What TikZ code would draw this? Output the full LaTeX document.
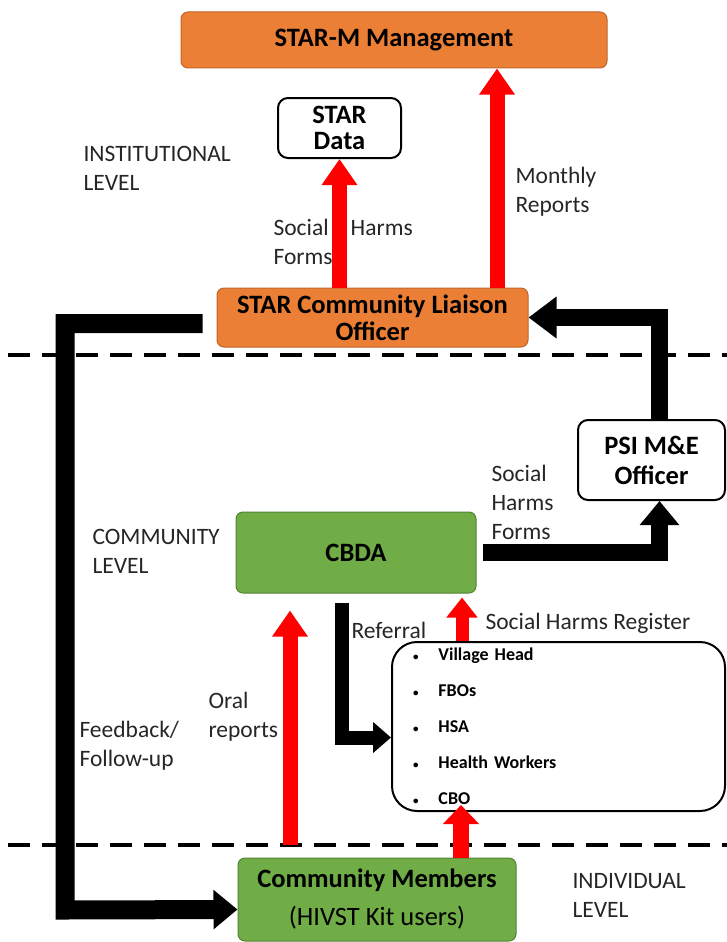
\documentclass[tikz,border=0pt]{standalone}
\usepackage{fontspec}
\setmainfont{Carlito}
\usetikzlibrary{arrows.meta}

\definecolor{boxorange}{HTML}{EB7F36}
\definecolor{boxorangeline}{HTML}{C0652A}
\definecolor{boxgreen}{HTML}{70AD47}
\definecolor{boxgreenline}{HTML}{548235}

\newcommand{\listdot}{{\fontsize{11}{11}\selectfont\textbullet}\hspace{20pt}}

\begin{document}
\begin{tikzpicture}[x=1pt,y=-1pt,
    font=\fontsize{23.5}{29}\selectfont,
    box/.style={rounded corners=7pt,line width=1pt,inner sep=0pt,align=center,
                font=\fontsize{26.5}{30}\selectfont\bfseries},
    orangebox/.style={box,draw=boxorangeline,fill=boxorange},
    greenbox/.style={box,draw=boxgreenline,fill=boxgreen},
    whitebox/.style={box,draw=black,line width=2pt,fill=white,rounded corners=10pt},
    lbl/.style={anchor=west,align=left,text=black!85},
    levelsep/.style={draw=black,line width=3.5pt,dash pattern=on 22pt off 12pt}]
\useasboundingbox (0,0) rectangle (727,942);

\begin{scope}
    \node (mgmt) at (394, 40) [orangebox,minimum width=426pt,minimum height=56pt] {STAR-M Management};
    \node (data) at (339.5, 128) [whitebox,minimum width=123pt,minimum height=60pt] {STAR\\[-4pt]Data};
    \node (clo) at (372.5, 317.5) [orangebox,minimum width=311pt,minimum height=59pt] {STAR Community Liaison\\[-3pt]Officer};

    \node (psi) at (651.5, 460) [whitebox,minimum width=147pt,minimum height=80pt] {PSI M\&E\\Officer};
    \node (cbda) at (356, 552.5) [greenbox,minimum width=240pt,minimum height=81pt] {CBDA};
    \node (list) at (558.5, 726.5) [draw=black,line width=2pt,rounded corners=25pt,fill=white,
        minimum width=333pt,minimum height=169pt,text width=291pt,inner xsep=21pt,align=left,
        font=\fontsize{18}{36}\selectfont\bfseries]
        {\listdot Village Head\\
         \listdot FBOs\\
         \listdot HSA\\
         \listdot Health Workers\\
         \listdot CBO};

    \node (cm) at (377, 899.5) [greenbox,minimum width=278pt,minimum height=83pt]
        {Community Members\\[8pt]\mdseries (HIVST Kit users)};
\end{scope}

% level names and flow labels
\node (inst) at (80, 168) [lbl] {INSTITUTIONAL\\LEVEL};
\node (comm) at (89, 551) [lbl] {COMMUNITY\\LEVEL};
\node (indiv) at (569, 895) [lbl] {INDIVIDUAL\\LEVEL};

\node (shforms) at (270, 241.5) [lbl] {Social\hspace{22pt}Harms\\Forms};
\node (monthly) at (512, 191.5) [lbl] {Monthly\\Reports};
\node (psiforms) at (488, 502) [lbl] {Social\\Harms\\Forms};
\node (referral) at (348, 630) [lbl] {Referral};
\node (shreg) at (482, 623) [lbl] {Social Harms Register};
\node (oral) at (205, 716.5) [lbl] {Oral\\reports};
\node (feedback) at (76, 745.5) [lbl] {Feedback/\\Follow-up};

\draw[levelsep] (8, 355) -- (727, 355);
\draw[levelsep] (8, 845) -- (727, 845);

\begin{scope}[redup/.style={draw=red,line width=15pt,-{Triangle[width=34pt,length=26pt]}},
              blackflow/.style={draw=black,line width=17pt,line join=miter,
                                -{Triangle[width=38pt,length=24pt]}}]
    \coordinate (mr) at (497, 0);
    \coordinate (oralfoot) at (290, 845);
    \coordinate (shr) at (462, 0);
    \coordinate (cbo) at (461, 805);
    \coordinate (fb) at (65, 910);

    \draw[redup] (clo.north -| data.south) -- (data.south);
    \draw[redup] (clo.north -| mr) -- (mgmt.south -| mr);
    \draw[redup,shorten >=17pt] (oralfoot) -- (oralfoot |- cbda.south);
    \draw[redup,line width=13pt,-{Triangle[width=30pt,length=20pt]},shorten >=4pt]
        (shr |- list.north) -- (shr |- cbda.south);
    \draw[redup,line width=16pt,-{Triangle[width=35pt,length=19pt]}] (cbo |- cm.north) -- (cbo);

    \draw[blackflow,-{Triangle[width=40pt,length=28pt]}] ([xshift=8pt]psi.north) |- (clo.east);
    \draw[blackflow] ([xshift=6pt]cbda.east) -| ([xshift=8pt]psi.south);
    \draw[blackflow,line width=14pt,-{Triangle[width=30pt,length=18pt]}]
        ([shift={(-14pt,-9pt)}]cbda.south) |- ([yshift=-11pt]list.west);
    \draw[blackflow,line width=19pt] ([shift={(-14pt,-6pt)}]clo.west) -| (fb) -- ([yshift=-10pt]cm.west);
\end{scope}
\end{tikzpicture}
\end{document}
